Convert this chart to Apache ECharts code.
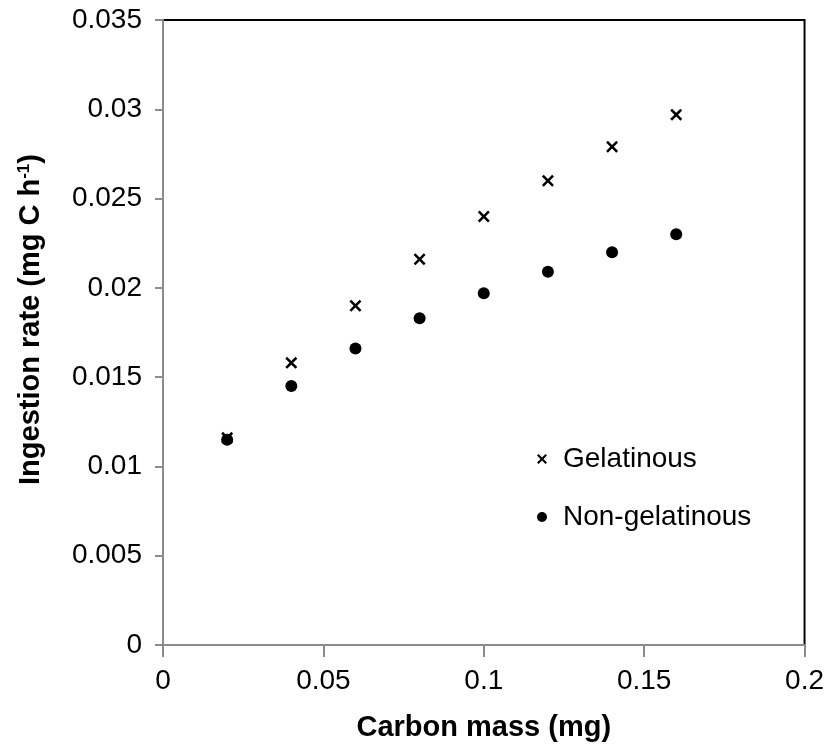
<!DOCTYPE html>
<html><head><meta charset="utf-8">
<script src="https://cdn.jsdelivr.net/npm/echarts@6/dist/echarts.min.js"></script>
<style>html,body{margin:0;padding:0;background:#fff}#c{width:827px;height:747px}</style>
</head><body><div id="c"></div>
<script>
const carbonMass = [0.02, 0.04, 0.06, 0.08, 0.10, 0.12, 0.14, 0.16];
const gelatinous = [0.0116, 0.0158, 0.0190, 0.0216, 0.0240, 0.0260, 0.0279, 0.0297];
const nonGelatinous = [0.0115, 0.0145, 0.0166, 0.0183, 0.0197, 0.0209, 0.0220, 0.0230];
const seriesNames = ['Gelatinous', 'Non-gelatinous'];

const crossPath = 'path://M0,1.5L1.5,0L5,3.5L8.5,0L10,1.5L6.5,5L10,8.5L8.5,10L5,6.5L1.5,10L0,8.5L3.5,5Z';
const font = 'Liberation Sans, Arial, sans-serif';
const chart = echarts.init(document.getElementById('c'));
chart.setOption({
  animation: false,
  textStyle: { fontFamily: font },
  grid: { left: 163, right: 22, top: 20, bottom: 99, show: true, borderColor: '#000', borderWidth: 2 },
  legend: {
    orient: 'vertical', left: 532, top: 440, itemGap: 30, itemWidth: 10, itemHeight: 10,
    itemStyle: { opacity: 1 },
    textStyle: { fontSize: 28, color: '#000', fontFamily: font, padding: [0, 0, 0, 11] },
    data: [{ name: seriesNames[0], icon: crossPath }, { name: seriesNames[1], icon: 'circle' }]
  },
  xAxis: {
    type: 'value', min: 0, max: 0.2, interval: 0.05,
    name: 'Carbon mass (mg)', nameLocation: 'middle', nameGap: 68,
    nameTextStyle: { fontSize: 29, fontWeight: 'bold', color: '#000' },
    axisLine: { lineStyle: { color: '#8c8c8c', width: 2 } },
    axisTick: { length: 12, lineStyle: { color: '#8c8c8c', width: 2 } },
    axisLabel: { fontSize: 28, color: '#000', margin: 22 },
    splitLine: { show: false }
  },
  yAxis: {
    type: 'value', min: 0, max: 0.035, interval: 0.005,
    name: 'Ingestion rate (mg C h{sup|-1})', nameLocation: 'middle', nameGap: 118,
    nameTextStyle: { fontSize: 29, fontWeight: 'bold', color: '#000', padding: [0, 0, 0, 26],
      rich: { sup: { fontSize: 17, fontWeight: 'bold', verticalAlign: 'top', padding: [0, 0, 12, 0] } } },
    axisLine: { lineStyle: { color: '#8c8c8c', width: 2 } },
    axisTick: { length: 8, lineStyle: { color: '#8c8c8c', width: 2 } },
    axisLabel: { fontSize: 28, color: '#000', margin: 21 },
    splitLine: { show: false }
  },
  series: [
    { name: seriesNames[0], type: 'scatter', symbol: crossPath, symbolSize: 12,
      itemStyle: { color: '#000', opacity: 1 }, z: 3,
      data: carbonMass.map((x, i) => [x, gelatinous[i]]) },
    { name: seriesNames[1], type: 'scatter', symbol: 'circle', symbolSize: 12,
      itemStyle: { color: '#000', opacity: 1 }, z: 2,
      data: carbonMass.map((x, i) => [x, nonGelatinous[i]]) }
  ]
});
</script></body></html>
